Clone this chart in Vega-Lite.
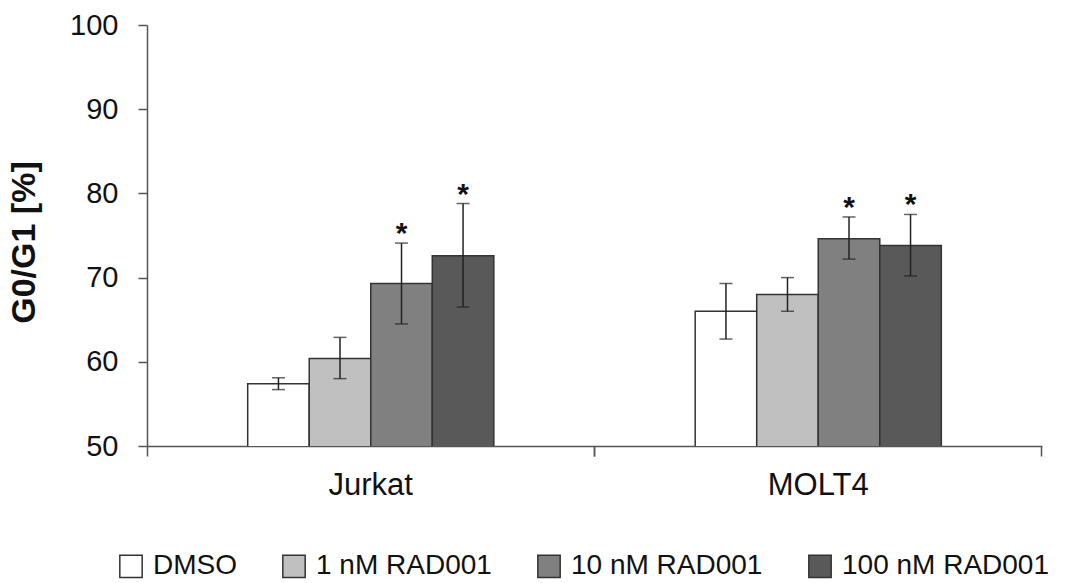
{
  "$schema": "https://vega.github.io/schema/vega-lite/v6.json",
  "width": 895,
  "height": 421,
  "autosize": {"type": "none"},
  "padding": {"left": 147, "top": 25, "right": 27, "bottom": 137},
  "background": "white",
  "config": {
    "view": {"stroke": null},
    "font": "Liberation Sans",
    "axis": {"grid": false, "domainColor": "#555555", "tickColor": "#555555", "labelColor": "#111111", "titleColor": "#111111", "labelFont": "Liberation Sans", "titleFont": "Liberation Sans"}
  },
  "data": {
    "values": [
      {"cell": "Jurkat", "treatment": "DMSO", "mean": 57.4, "lo": 56.7, "hi": 58.1, "sig": ""},
      {"cell": "Jurkat", "treatment": "1 nM RAD001", "mean": 60.4, "lo": 58.0, "hi": 62.9, "sig": ""},
      {"cell": "Jurkat", "treatment": "10 nM RAD001", "mean": 69.3, "lo": 64.5, "hi": 74.1, "sig": "*"},
      {"cell": "Jurkat", "treatment": "100 nM RAD001", "mean": 72.6, "lo": 66.5, "hi": 78.8, "sig": "*"},
      {"cell": "MOLT4", "treatment": "DMSO", "mean": 66.0, "lo": 62.7, "hi": 69.3, "sig": ""},
      {"cell": "MOLT4", "treatment": "1 nM RAD001", "mean": 68.0, "lo": 66.0, "hi": 70.0, "sig": ""},
      {"cell": "MOLT4", "treatment": "10 nM RAD001", "mean": 74.6, "lo": 72.2, "hi": 77.2, "sig": "*"},
      {"cell": "MOLT4", "treatment": "100 nM RAD001", "mean": 73.8, "lo": 70.2, "hi": 77.5, "sig": "*"}
    ]
  },
  "resolve": {"axis": {"x": "independent"}},
  "layer": [
    {
      "mark": {"type": "bar", "stroke": "#333333", "strokeWidth": 1.5, "clip": true},
      "encoding": {
        "x": {
          "field": "cell", "type": "nominal", "sort": ["Jurkat", "MOLT4"],
          "scale": {"paddingInner": 0.45, "paddingOuter": 0.225},
          "axis": {"title": null, "orient": "bottom", "labelAngle": 0, "labelFontSize": 31, "labelPadding": 14, "tickSize": 10, "bandPosition": -0.409, "labelOffset": 0, "tickWidth": 1.5, "domainWidth": 1.5}
        },
        "xOffset": {
          "field": "treatment", "type": "nominal",
          "sort": ["DMSO", "1 nM RAD001", "10 nM RAD001", "100 nM RAD001"],
          "scale": {"paddingInner": 0, "paddingOuter": 0}
        },
        "y": {
          "field": "mean", "type": "quantitative",
          "scale": {"domain": [50, 100], "zero": false, "nice": false},
          "axis": {"title": "G0/G1 [%]", "titleFontSize": 34, "titleFontWeight": "bold", "titlePadding": 28, "titleY": 217, "labelFontSize": 29, "labelPadding": 20, "tickSize": 9, "values": [50, 60, 70, 80, 90, 100], "tickWidth": 1.5, "domainWidth": 1.5}
        },
        "fill": {
          "field": "treatment", "type": "nominal",
          "sort": ["DMSO", "1 nM RAD001", "10 nM RAD001", "100 nM RAD001"],
          "scale": {"domain": ["DMSO", "1 nM RAD001", "10 nM RAD001", "100 nM RAD001"], "range": ["#ffffff", "#c0c0c0", "#808080", "#595959"]},
          "legend": {
            "title": null, "orient": "none", "legendX": -30, "legendY": 527, "direction": "horizontal",
            "symbolType": "square", "symbolSize": 500, "symbolStrokeColor": "#333333", "symbolStrokeWidth": 1.5,
            "labelFontSize": 28, "labelFont": "Liberation Sans", "labelColor": "#111111", "labelOffset": 8, "labelLimit": 0, "columnPadding": 42
          }
        }
      }
    },
    {
      "mark": {"type": "rule", "color": "#222222", "strokeWidth": 1.5},
      "encoding": {
        "x": {
          "field": "cell", "type": "nominal", "sort": ["Jurkat", "MOLT4"],
          "axis": {"title": null, "orient": "bottom", "labels": false, "domain": false, "tickSize": 10, "bandPosition": 1.409, "tickWidth": 1.5}
        },
        "xOffset": {
          "field": "treatment", "type": "nominal",
          "sort": ["DMSO", "1 nM RAD001", "10 nM RAD001", "100 nM RAD001"]
        },
        "y": {"field": "lo", "type": "quantitative"},
        "y2": {"field": "hi"}
      }
    },
    {
      "mark": {"type": "tick", "color": "#222222", "thickness": 1.5, "size": 13},
      "encoding": {
        "x": {"field": "cell", "type": "nominal", "sort": ["Jurkat", "MOLT4"], "axis": null},
        "xOffset": {"field": "treatment", "type": "nominal", "sort": ["DMSO", "1 nM RAD001", "10 nM RAD001", "100 nM RAD001"]},
        "y": {"field": "lo", "type": "quantitative"}
      }
    },
    {
      "mark": {"type": "tick", "color": "#222222", "thickness": 1.5, "size": 13},
      "encoding": {
        "x": {"field": "cell", "type": "nominal", "sort": ["Jurkat", "MOLT4"], "axis": null},
        "xOffset": {"field": "treatment", "type": "nominal", "sort": ["DMSO", "1 nM RAD001", "10 nM RAD001", "100 nM RAD001"]},
        "y": {"field": "hi", "type": "quantitative"}
      }
    },
    {
      "mark": {"type": "text", "fontSize": 30, "fontWeight": "bold", "color": "#111111", "baseline": "alphabetic", "dy": 0},
      "encoding": {
        "x": {"field": "cell", "type": "nominal", "sort": ["Jurkat", "MOLT4"], "axis": null},
        "xOffset": {"field": "treatment", "type": "nominal", "sort": ["DMSO", "1 nM RAD001", "10 nM RAD001", "100 nM RAD001"]},
        "y": {"field": "hi", "type": "quantitative"},
        "text": {"field": "sig"}
      }
    }
  ]
}
